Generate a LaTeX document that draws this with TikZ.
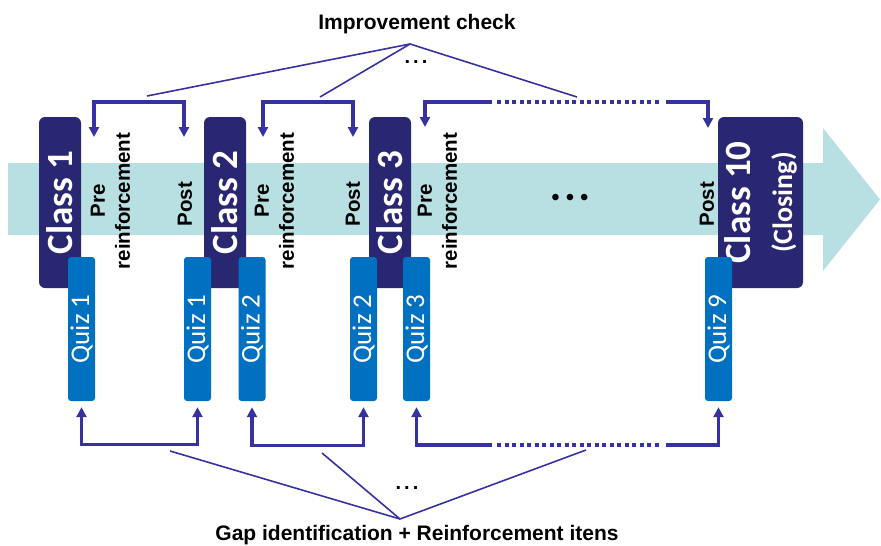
\documentclass[tikz,border=0pt]{standalone}
\usepackage{fontspec}
\setmainfont{Liberation Sans}
\newfontfamily\calibri{Carlito}
\usetikzlibrary{arrows.meta}

\definecolor{banda}{HTML}{B8DFE2}
\definecolor{marino}{HTML}{2A2772}
\definecolor{azulq}{HTML}{0070C0}
\definecolor{violeta}{HTML}{3633A0}

\begin{document}
\begin{tikzpicture}[x=1pt,y=-1pt,>={Triangle[length=10pt,width=10pt]},
  clase/.style={fill=marino,rounded corners=6pt,rotate=90,text=white,inner sep=0pt,
    font=\calibri\bfseries\fontsize{37}{42}\selectfont,minimum width=171pt,minimum height=42pt},
  quiz/.style={fill=azulq,rounded corners=3pt,rotate=90,text=white,inner sep=0pt,
    font=\calibri\fontsize{27}{30}\selectfont,minimum width=144pt,minimum height=27pt},
  etiq/.style={rotate=90,inner sep=0pt,align=center,font=\bfseries\fontsize{20.5}{25}\selectfont},
  titulo/.style={font=\bfseries\fontsize{21}{24}\selectfont},
  corchete/.style={draw=violeta,line width=3.2pt},
  guia/.style={draw=violeta,line width=1.6pt}]
  \useasboundingbox (0,0) rectangle (881,546);
  % flecha de fondo
  \fill[banda] (8,163) -- (823,163) -- (823,128) -- (880,199.5) -- (823,271) -- (823,235) -- (8,235) -- cycle;
  % clases
  \node[clase] (c1) at (60,202.5) {Class 1};
  \node[clase] (c2) at (225,202.5) {Class 2};
  \node[clase] (c3) at (390,202.5) {Class 3};
  \node[clase,minimum height=85pt,align=center] (c10) at (760.5,202.5)
    {Class 10\\{\fontsize{28}{28}\selectfont(Closing)}};
  % quizzes
  \node[quiz] (q1a) at (81.5,329) {Quiz 1};
  \node[quiz] (q1b) at (197.5,329) {Quiz 1};
  \node[quiz] (q2a) at (252,329) {Quiz 2};
  \node[quiz] (q2b) at (363.5,329) {Quiz 2};
  \node[quiz] (q3) at (416.5,329) {Quiz 3};
  \node[quiz] (q9) at (718.5,329) {Quiz 9};
  % etiquetas pre / post
  \foreach \x/\n in {110.5/1,274.5/2,437.5/3}
    \node[etiq] (pre\n) at (\x,201) {Pre\\reinforcement};
  \foreach \x/\n in {185/1,353/2,707/10}
    \node[etiq] (post\n) at (\x,204) {Post};
  \node (puntos) at (570,200) {\fontsize{24}{24}\selectfont\textbullet\hspace{6pt}\textbullet\hspace{6pt}\textbullet};
  % corchetes de arriba
  \coordinate (a1) at (94,137);  \coordinate (b1) at (184,137);
  \coordinate (a2) at (263,137); \coordinate (b2) at (353,137);
  \coordinate (a3) at (425,127); \coordinate (b10) at (708,128);
  \coordinate (s1) at (492,102); \coordinate (s2) at (497,102);
  \coordinate (s3) at (659,102); \coordinate (s4) at (666,102);
  \draw[corchete,<->] (a1) -- ++(0,-35) -| (b1);
  \draw[corchete,<->] (a2) -- ++(0,-35) -| (b2);
  \draw[corchete,<-] (a3) |- (s1);
  \draw[corchete,dash pattern=on 4pt off 3.5pt] (s2) -- (s3);
  \draw[corchete,->] (s4) -| (b10);
  % corchetes de abajo
  \coordinate (i1) at (492,445); \coordinate (i2) at (497,445);
  \coordinate (i3) at (659,445); \coordinate (i4) at (666,445);
  \draw[corchete,<->,shorten <=6pt,shorten >=6pt] (q1a.west) -- ++(0,43) -| (q1b.west);
  \draw[corchete,<->,shorten <=6pt,shorten >=6pt] (q2a.west) -- ++(0,44) -| (q2b.west);
  \draw[corchete,<-,shorten <=6pt] (q3.west) |- (i1);
  \draw[corchete,dash pattern=on 4pt off 3.5pt] (i2) -- (i3);
  \draw[corchete,->,shorten >=6pt] (i4) -| (q9.west);
  % textos y guias
  \node[titulo] (mejora) at (417,24) {Improvement check};
  \node (dots1) at (416,62) {\bfseries\fontsize{20}{20}\selectfont.\hspace{3pt}.\hspace{3pt}.};
  \coordinate (pm) at (410,44);
  \foreach \p in {(147,96),(320,97),(577,97)} \draw[guia] (pm) -- \p;
  \node[titulo] (brecha) at (417,535) {Gap identification + Reinforcement itens};
  \node (dots2) at (407,488) {\bfseries\fontsize{20}{20}\selectfont.\hspace{3pt}.\hspace{3pt}.};
  \coordinate (pg) at (400,519);
  \foreach \p in {(170,451),(322,453),(586,450)} \draw[guia] (pg) -- \p;
\end{tikzpicture}
\end{document}
